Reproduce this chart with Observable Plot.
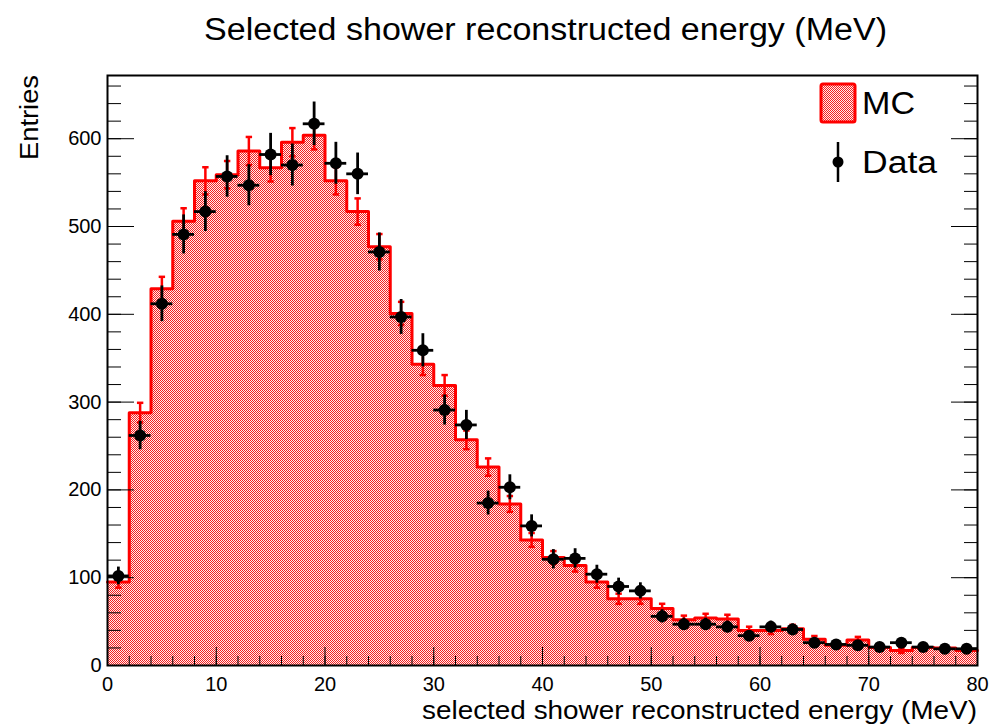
<!DOCTYPE html>
<html>
<head>
<meta charset="utf-8">
<script src="https://cdn.jsdelivr.net/npm/d3@7"></script>
<script src="https://cdn.jsdelivr.net/npm/@observablehq/plot@0.6"></script>
<style>
  html, body { margin: 0; padding: 0; background: white; }
  #chart { width: 992px; height: 728px; }
</style>
</head>
<body>
<div id="chart"></div>
<script>
// ---- data ----
const binLow = [0,2,4,6,8,10,12,14,16,18,20,22,24,26,28,30,32,34,36,38,40,42,44,46,48,50,52,54,56,58,60,62,64,66,68,70,72,74,76,78];
const binWidth = 2;
const mcValues = [95,288,429,506,552,559,586,567,596,604,552,517,477,401,343,319,257,226,184,143,123,114,95,76,76,65,52,54,53,40,40,42,30,23,29,20.5,17,20.5,20,17];
const mcErrors = [6.4,11.2,13.7,14.8,15.5,15.6,16,15.7,16.1,16.2,15.5,15,14.4,13.2,12.2,11.8,10.6,9.9,9,7.9,7.3,7,6.4,5.8,5.8,5.3,4.8,4.9,4.8,4.2,4.2,4.3,3.6,3.2,3.6,3,2.7,3,3,2.7];
const dataValues = [102,262,412,491,517,557,547,582,570,617,572,560,471,397,359,291,274,185,203,159,121,122,104,90,85,56,47,47,44,34,44,41,26,24,23,21,26,21,19,19];
const dataErrors = [10.1,16.2,20.3,22.2,22.7,23.6,23.4,24.1,23.9,24.8,23.9,23.7,21.7,19.9,18.9,17.1,16.6,13.6,14.2,12.6,11,11,10.2,9.5,9.2,7.5,6.9,6.9,6.6,5.8,6.6,6.4,5.1,4.9,4.8,4.6,5.1,4.6,4.4,4.4];
const xTickLabels = [0,10,20,30,40,50,60,70,80];
const yTickLabels = [0,100,200,300,400,500,600];
const xMinorTicks = d3.range(0, 81, 2);
const yMinorTicks = d3.range(0, 661, 20);
const titleText = "Selected shower reconstructed energy (MeV)";
const xLabelText = "selected shower reconstructed energy (MeV)";
const yLabelText = "Entries";
const legendLabels = ["MC", "Data"];

// ---- derived tables ----
const bins = binLow.map((lo, i) => ({
  lo, hi: lo + binWidth, c: lo + binWidth / 2,
  mc: mcValues[i], mcLo: mcValues[i] - mcErrors[i], mcHi: mcValues[i] + mcErrors[i],
  d: dataValues[i], dLo: dataValues[i] - dataErrors[i], dHi: dataValues[i] + dataErrors[i]
}));
const edges = bins.map(b => ({x: b.lo, y: b.mc}))
  .concat([{x: bins[bins.length - 1].hi, y: bins[bins.length - 1].mc}]);

// small horizontal cap symbol (pixel sized)
const capSymbol = {
  draw(ctx, size) {
    const r = Math.sqrt(size / Math.PI);
    ctx.moveTo(-r, 0); ctx.lineTo(r, 0);
  }
};

const blank = () => "";

const svg = Plot.plot({
  width: 992, height: 728,
  marginLeft: 107, marginRight: 15, marginTop: 75, marginBottom: 63,
  x: {domain: [0, 80]},
  y: {domain: [0, 672]},
  style: {fontFamily: "'Liberation Sans', Arial, sans-serif", fontSize: "20px", color: "black", background: "white", overflow: "visible"},
  marks: [
    Plot.areaY(edges, {x: "x", y: "y", curve: "step-after", fill: "url(#mchatch)"}),
    Plot.lineY(edges, {x: "x", y: "y", curve: "step-after", stroke: "#ff0000", strokeWidth: 3}),
    // MC error bars
    Plot.ruleX(bins, {x: "c", y1: "mcLo", y2: "mcHi", stroke: "#ff0000", strokeWidth: 2.5}),
    Plot.dot(bins, {x: "c", y: "mcHi", symbol: capSymbol, r: 3.2, stroke: "#ff0000", strokeWidth: 2.5, fill: "none"}),
    Plot.dot(bins, {x: "c", y: "mcLo", symbol: capSymbol, r: 3.2, stroke: "#ff0000", strokeWidth: 2.5, fill: "none"}),
    // axes ticks (inside, ROOT style)
    Plot.axisX({ticks: xTickLabels, tickSize: -18, tickFormat: blank, label: null}),
    Plot.axisX({ticks: xMinorTicks, tickSize: -9, tickFormat: blank, label: null}),
    Plot.axisX({ticks: xTickLabels, tickSize: 0, tickPadding: 11, tickFormat: d => String(d), label: null}),
    Plot.axisY({ticks: yTickLabels, tickSize: -27, tickFormat: blank, label: null}),
    Plot.axisY({ticks: yMinorTicks, tickSize: -14, tickFormat: blank, label: null}),
    Plot.axisY({ticks: yTickLabels, tickSize: 0, tickPadding: 6, tickFormat: d => String(d), label: null}),
    Plot.axisY({anchor: "right", ticks: yTickLabels, tickSize: -27, tickFormat: blank, label: null}),
    Plot.axisY({anchor: "right", ticks: yMinorTicks, tickSize: -14, tickFormat: blank, label: null}),
    // data points
    Plot.ruleY(bins, {y: "d", x1: "lo", x2: "hi", stroke: "black", strokeWidth: 2.8}),
    Plot.ruleX(bins, {x: "c", y1: "dLo", y2: "dHi", stroke: "black", strokeWidth: 2.8}),
    Plot.dot(bins, {x: "c", y: "d", r: 6, fill: "black"}),
    Plot.frame({stroke: "black", strokeWidth: 2})
  ]
});

const s = d3.select(svg);
const defs = s.insert("defs", ":first-child");
const pat = defs.append("pattern").attr("id", "mchatch").attr("patternUnits", "userSpaceOnUse")
  .attr("width", 2).attr("height", 2);
pat.append("rect").attr("width", 2).attr("height", 2).attr("fill", "#ffeeee");
pat.append("rect").attr("width", 1).attr("height", 1).attr("fill", "#f52020");
pat.append("rect").attr("x", 1).attr("y", 1).attr("width", 1).attr("height", 1).attr("fill", "#f52020");

const font = "'Liberation Sans', Arial, sans-serif";
// title
s.append("text").attr("x", 545.5).attr("y", 40).attr("text-anchor", "middle")
  .attr("font-family", font).attr("font-size", 31).attr("fill", "black")
  .attr("textLength", 683).attr("lengthAdjust", "spacingAndGlyphs").text(titleText);
// x label
s.append("text").attr("x", 977).attr("y", 719).attr("text-anchor", "end")
  .attr("font-family", font).attr("font-size", 25).attr("fill", "black")
  .attr("textLength", 555).attr("lengthAdjust", "spacingAndGlyphs").text(xLabelText);
// y label
s.append("text").attr("transform", "translate(38,75) rotate(-90)").attr("text-anchor", "end")
  .attr("font-family", font).attr("font-size", 25).attr("fill", "black")
  .attr("textLength", 85).attr("lengthAdjust", "spacingAndGlyphs").text(yLabelText);

// legend
const lg = s.append("g");
lg.append("rect").attr("x", 821).attr("y", 84).attr("width", 34).attr("height", 38).attr("rx", 2)
  .attr("fill", "url(#mchatch)").attr("stroke", "#ff0000").attr("stroke-width", 3);
lg.append("text").attr("x", 862).attr("y", 114).attr("text-anchor", "start").attr("font-family", font).attr("font-size", 31)
  .attr("fill", "black").attr("textLength", 53).attr("lengthAdjust", "spacingAndGlyphs").text(legendLabels[0]);
lg.append("line").attr("x1", 838).attr("x2", 838).attr("y1", 142).attr("y2", 182)
  .attr("stroke", "black").attr("stroke-width", 2.5);
lg.append("circle").attr("cx", 838).attr("cy", 162).attr("r", 5.5).attr("fill", "black");
lg.append("text").attr("x", 862).attr("y", 173).attr("text-anchor", "start").attr("font-family", font).attr("font-size", 31)
  .attr("fill", "black").attr("textLength", 75).attr("lengthAdjust", "spacingAndGlyphs").text(legendLabels[1]);

document.getElementById("chart").appendChild(svg);
</script>
</body>
</html>
